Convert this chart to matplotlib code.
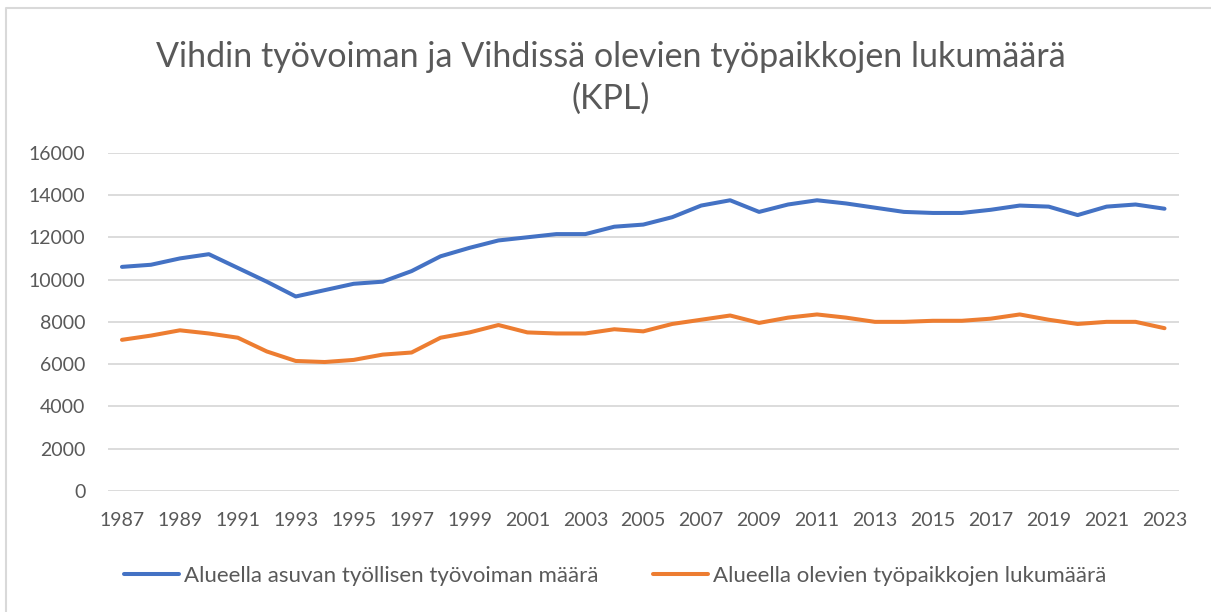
import matplotlib.pyplot as plt
from matplotlib.lines import Line2D

plt.rcParams['font.family'] = ['Lato', 'DejaVu Sans']

years = list(range(1987, 2024))
tyovoima = [10600, 10700, 11000, 11200, 10550, 9900, 9200, 9500, 9800, 9900,
            10400, 11100, 11500, 11850, 12000, 12150, 12150, 12500, 12600, 12950,
            13500, 13750, 13200, 13550, 13750, 13600, 13400, 13200, 13150, 13150,
            13300, 13500, 13450, 13050, 13450, 13550, 13350]
tyopaikat = [7150, 7350, 7600, 7450, 7250, 6600, 6150, 6100, 6200, 6450,
             6550, 7250, 7500, 7850, 7500, 7450, 7450, 7650, 7550, 7900,
             8100, 8300, 7950, 8200, 8350, 8200, 8000, 8000, 8050, 8050,
             8150, 8350, 8100, 7900, 8000, 8000, 7700]
yticks = list(range(0, 16001, 2000))
labels = ['Alueella asuvan työllisen työvoiman määrä',
          'Alueella olevien työpaikkojen lukumäärä']
title = 'Vihdin työvoiman ja Vihdissä olevien työpaikkojen lukumäärä\n(KPL)'

txt = '#595959'
W, H = 1211, 612

fig = plt.figure(figsize=(12.11, 6.12), dpi=100)
# chart frame (only top and left edge visible in the crop)
fig.lines.append(Line2D([6 / W, 6 / W, 1], [0, 1 - 8 / H, 1 - 8 / H], transform=fig.transFigure,
                        color='#d9d9d9', linewidth=1.5))
ax = fig.add_axes([107.5 / W, 1 - 491 / H, (1179 - 107.5) / W, (491 - 152.7) / H])

ax.plot(years, tyovoima, color='#4472C4', linewidth=2.9, label=labels[0], solid_capstyle='round')
ax.plot(years, tyopaikat, color='#ED7D31', linewidth=2.9, label=labels[1], solid_capstyle='round')

ax.set_xlim(1986.5, 2023.5)
ax.set_ylim(0, 16000)
ax.set_yticks(yticks)
ax.set_xticks(years[::2])
ax.tick_params(axis='both', length=0, labelsize=14, colors=txt)
ax.tick_params(axis='y', pad=16)
ax.tick_params(axis='x', pad=15)
ax.grid(axis='y', color='#d9d9d9', linewidth=1.3)
ax.set_axisbelow(True)
for s in ax.spines.values():
    s.set_visible(False)

fig.text(611 / W, 1 - 78 / H, title, ha='center', va='center', fontsize=24.5, color=txt, linespacing=1.35)

fig.legend(loc='center', bbox_to_anchor=(615 / W, 1 - 576 / H), ncol=2, frameon=False,
           fontsize=16, labelcolor=txt, handlelength=2.5, handletextpad=0.2, columnspacing=2.45)

fig.savefig('out.png', dpi=100)
